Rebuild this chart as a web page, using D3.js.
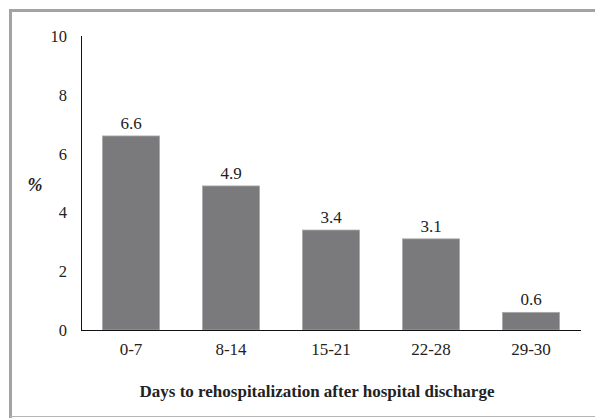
<!DOCTYPE html>
<html><head><meta charset="utf-8">
<script src="https://cdn.jsdelivr.net/npm/d3@7"></script>
<style>body{margin:0;background:#fff}svg{display:block}</style>
</head><body><svg id="c" width="595" height="418"></svg>
<script>
const categories = ["0-7","8-14","15-21","22-28","29-30"];
const values = [6.6,4.9,3.4,3.1,0.6];
const yTicks = [0,2,4,6,8,10];

const FONT = "Liberation Serif";
const svg = d3.select("#c");
svg.append("rect").attr("x",0).attr("y",0).attr("width",595).attr("height",418).attr("fill","#fff");
svg.append("path").attr("d","M10.5,418 V10.5 H595").attr("fill","none").attr("stroke","#a3a3a5").attr("stroke-width",3);
svg.append("line").attr("x1",10).attr("x2",595).attr("y1",416.5).attr("y2",416.5).attr("stroke","#b5b5b5").attr("stroke-width",1);

const x = d3.scaleBand().domain(categories).range([81,581]).paddingInner(0.43).paddingOuter(0.215);
const y = d3.scaleLinear().domain([0,10]).range([330,36]);

svg.selectAll("rect.bar").data(values).join("rect").attr("class","bar")
  .attr("x",(d,i)=>x(categories[i])).attr("width",x.bandwidth())
  .attr("y",d=>y(d)).attr("height",d=>y(0)-y(d))
  .attr("fill","#7a7a7c").attr("stroke","#a9a9ab").attr("stroke-width",0.8);

const T = (sel)=>sel.attr("font-family",FONT).attr("fill","#222");

T(svg.selectAll("text.val").data(values).join("text").attr("class","val"))
  .attr("x",(d,i)=>x(categories[i])+x.bandwidth()/2).attr("y",d=>y(d)-7)
  .attr("text-anchor","middle").attr("font-size",17).text(d=>d.toFixed(1));

svg.append("line").attr("x1",81.5).attr("x2",81.5).attr("y1",y(10)).attr("y2",y(0)+0.5).attr("stroke","#111").attr("stroke-width",1);
svg.append("line").attr("x1",81).attr("x2",581).attr("y1",y(0)+0.5).attr("y2",y(0)+0.5).attr("stroke","#111").attr("stroke-width",1.2);

T(svg.selectAll("text.yt").data(yTicks).join("text").attr("class","yt"))
  .attr("x",67).attr("y",d=>y(d)+6).attr("text-anchor","end").attr("font-size",16.5).text(d=>d);

T(svg.selectAll("text.xt").data(categories).join("text").attr("class","xt"))
  .attr("x",d=>x(d)+x.bandwidth()/2).attr("y",355)
  .attr("text-anchor","middle").attr("font-size",17).text(d=>d);

T(svg.append("text")).attr("x",35).attr("y",191).attr("text-anchor","middle").attr("font-size",18)
  .attr("font-weight","bold").attr("font-style","italic").text("%");

T(svg.append("text")).attr("x",317).attr("y",397).attr("text-anchor","middle").attr("font-size",17)
  .attr("font-weight","bold").text("Days to rehospitalization after hospital discharge");
</script></body></html>
